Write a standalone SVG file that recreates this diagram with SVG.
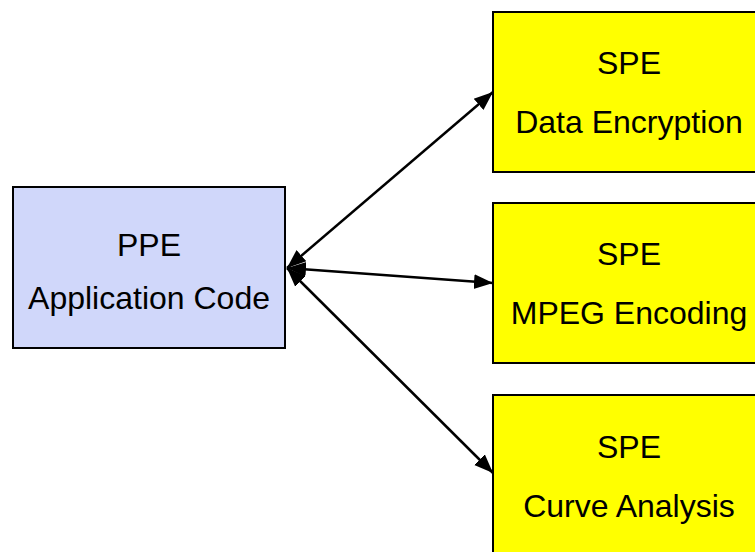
<svg xmlns="http://www.w3.org/2000/svg" width="755" height="552" viewBox="0 0 755 552">
<style>
.box{stroke:#000;stroke-width:2}
.ppe{fill:#D0D7FA}
.spe{fill:#FFFF00}
text{font-family:"Liberation Sans",Arial,sans-serif;font-size:32px;fill:#000;text-anchor:middle}
.conn{stroke:#000;stroke-width:2.5;fill:none;marker-start:url(#ah);marker-end:url(#ah)}
</style>
<defs>
<marker id="ah" markerUnits="userSpaceOnUse" markerWidth="22" markerHeight="18" viewBox="0 0 22 18" refX="19" refY="9" orient="auto-start-reverse">
<path d="M0,1.5 L19,9 L0,16.5 Z" fill="#000"/>
</marker>
</defs>
<rect width="755" height="552" fill="#fff"/>
<g id="connectors">
<line class="conn" x1="287" y1="268" x2="493" y2="92"/>
<line class="conn" x1="287" y1="268" x2="493" y2="283"/>
<line class="conn" x1="287" y1="268" x2="493" y2="473"/>
</g>
<g id="ppe">
<rect class="box ppe" x="13" y="187" width="272" height="161"/>
<text x="149" y="256">PPE</text>
<text x="149" y="309">Application Code</text>
</g>
<g id="spe1">
<rect class="box spe" x="493" y="12" width="272" height="160"/>
<text x="629" y="74">SPE</text>
<text x="629" y="133">Data Encryption</text>
</g>
<g id="spe2">
<rect class="box spe" x="493" y="203" width="272" height="160"/>
<text x="629" y="265">SPE</text>
<text x="629" y="324">MPEG Encoding</text>
</g>
<g id="spe3">
<rect class="box spe" x="493" y="395" width="272" height="160"/>
<text x="629" y="458">SPE</text>
<text x="629" y="517">Curve Analysis</text>
</g>
</svg>
